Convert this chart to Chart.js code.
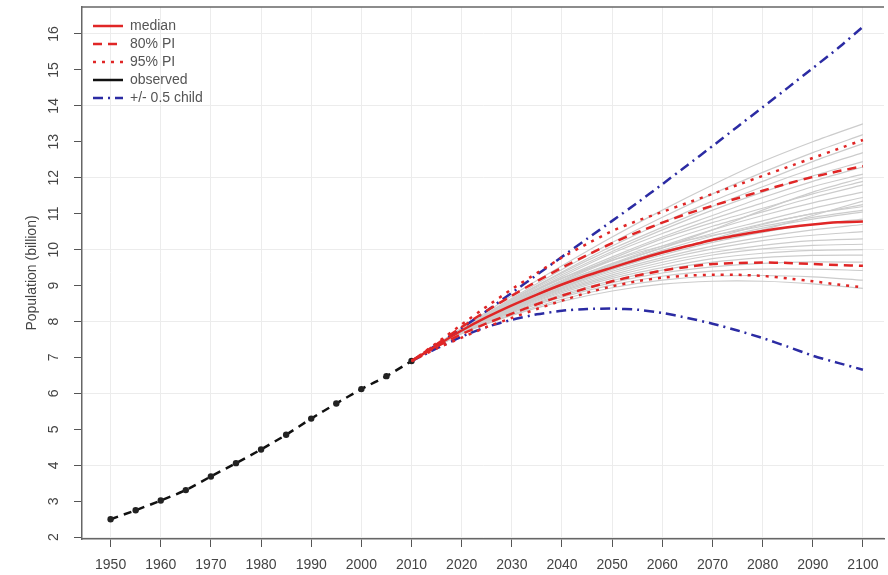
<!DOCTYPE html>
<html>
<head>
<meta charset="utf-8">
<script src="https://cdn.jsdelivr.net/npm/chart.js@4.4.1/dist/chart.umd.min.js"></script>
<style>
  html, body { margin: 0; padding: 0; background: #fff; overflow: hidden; }
</style>
</head>
<body>
<canvas id="chart" width="888" height="575"></canvas>
<script>
// observed world population, every 5 years
const obsYears = [1950, 1955, 1960, 1965, 1970, 1975, 1980, 1985, 1990, 1995, 2000, 2005, 2010];
const observed = [2.5, 2.75, 3.02, 3.31, 3.69, 4.06, 4.44, 4.85, 5.3, 5.72, 6.12, 6.48, 6.9];

// projections
const projYears = [2010, 2015, 2020, 2025, 2030, 2035, 2040, 2045, 2050, 2055, 2060, 2065, 2070, 2075, 2080, 2085, 2090, 2095, 2100];
const median    = [6.9, 7.33, 7.75, 8.12, 8.45, 8.75, 9.03, 9.28, 9.5, 9.72, 9.92, 10.1, 10.27, 10.4, 10.52, 10.62, 10.7, 10.76, 10.78];
const pi80Upper = [6.9, 7.37, 7.85, 8.3, 8.72, 9.12, 9.5, 9.85, 10.18, 10.48, 10.75, 11.0, 11.22, 11.43, 11.64, 11.84, 12.02, 12.18, 12.32];
const pi80Lower = [6.9, 7.3, 7.65, 7.95, 8.22, 8.48, 8.72, 8.93, 9.12, 9.28, 9.42, 9.52, 9.6, 9.63, 9.64, 9.63, 9.6, 9.57, 9.55];
const pi95Upper = [6.9, 7.4, 7.92, 8.42, 8.9, 9.35, 9.78, 10.16, 10.52, 10.8, 11.05, 11.3, 11.55, 11.8, 12.05, 12.3, 12.55, 12.8, 13.05];
const pi95Lower = [6.9, 7.25, 7.55, 7.85, 8.1, 8.35, 8.58, 8.8, 8.98, 9.12, 9.22, 9.28, 9.3, 9.3, 9.27, 9.2, 9.12, 9.03, 8.95];
const childUpper = [6.9, 7.35, 7.82, 8.3, 8.8, 9.3, 9.8, 10.3, 10.8, 11.3, 11.82, 12.35, 12.88, 13.42, 13.96, 14.5, 15.05, 15.6, 16.2];
const childLower = [6.9, 7.25, 7.58, 7.85, 8.05, 8.2, 8.3, 8.35, 8.36, 8.33, 8.24, 8.1, 7.94, 7.75, 7.54, 7.3, 7.05, 6.85, 6.66];

// sample trajectories, every 10 years
const trajYears = [2010, 2020, 2030, 2040, 2050, 2060, 2070, 2080, 2090, 2100];
const trajectories = [
  [6.9, 7.82, 8.72, 9.55, 10.35, 11.1, 11.8, 12.45, 13.0, 13.5],
  [6.9, 7.8, 8.65, 9.45, 10.2, 10.9, 11.55, 12.15, 12.7, 13.2],
  [6.9, 7.8, 8.62, 9.38, 10.1, 10.75, 11.35, 11.9, 12.45, 12.95],
  [6.9, 7.79, 8.6, 9.35, 10.02, 10.62, 11.2, 11.75, 12.25, 12.7],
  [6.9, 7.78, 8.58, 9.3, 9.95, 10.55, 11.1, 11.6, 12.05, 12.45],
  [6.9, 7.77, 8.55, 9.25, 9.9, 10.45, 10.95, 11.45, 11.9, 12.3],
  [6.9, 7.77, 8.52, 9.2, 9.8, 10.35, 10.85, 11.3, 11.75, 12.1],
  [6.9, 7.76, 8.5, 9.15, 9.75, 10.3, 10.75, 11.15, 11.55, 11.9],
  [6.9, 7.76, 8.48, 9.12, 9.7, 10.2, 10.65, 11.05, 11.45, 11.8],
  [6.9, 7.75, 8.46, 9.08, 9.62, 10.1, 10.55, 10.95, 11.3, 11.6],
  [6.9, 7.75, 8.45, 9.05, 9.58, 10.05, 10.45, 10.8, 11.15, 11.45],
  [6.9, 7.74, 8.43, 9.02, 9.52, 9.98, 10.38, 10.72, 11.0, 11.25],
  [6.9, 7.74, 8.42, 9.0, 9.5, 9.92, 10.28, 10.6, 10.85, 11.05],
  [6.9, 7.73, 8.4, 8.96, 9.45, 9.85, 10.2, 10.48, 10.7, 10.85],
  [6.9, 7.73, 8.38, 8.93, 9.4, 9.78, 10.1, 10.35, 10.55, 10.7],
  [6.9, 7.72, 8.36, 8.9, 9.35, 9.72, 10.02, 10.25, 10.4, 10.5],
  [6.9, 7.72, 8.35, 8.87, 9.3, 9.65, 9.92, 10.12, 10.25, 10.3],
  [6.9, 7.71, 8.33, 8.84, 9.25, 9.58, 9.85, 10.02, 10.12, 10.15],
  [6.9, 7.71, 8.31, 8.8, 9.2, 9.5, 9.75, 9.9, 9.98, 10.0],
  [6.9, 7.7, 8.29, 8.76, 9.14, 9.43, 9.65, 9.78, 9.84, 9.85],
  [6.9, 7.69, 8.27, 8.72, 9.08, 9.35, 9.52, 9.62, 9.66, 9.65],
  [6.9, 7.68, 8.24, 8.68, 9.02, 9.26, 9.4, 9.46, 9.46, 9.42],
  [6.9, 7.67, 8.2, 8.62, 8.94, 9.15, 9.26, 9.28, 9.24, 9.15],
  [6.9, 7.66, 8.17, 8.56, 8.85, 9.04, 9.12, 9.12, 9.05, 8.92],
  [6.9, 7.76, 8.5, 9.1, 9.6, 10.05, 10.55, 11.1, 11.6, 12.0],
  [6.9, 7.74, 8.44, 9.05, 9.55, 9.95, 10.25, 10.55, 10.95, 11.35],
  [6.9, 7.78, 8.55, 9.2, 9.7, 10.1, 10.4, 10.65, 10.9, 11.1],
  [6.9, 7.72, 8.38, 8.95, 9.45, 9.9, 10.3, 10.7, 11.0, 11.2]
];

const xTicks = [1950, 1960, 1970, 1980, 1990, 2000, 2010, 2020, 2030, 2040, 2050, 2060, 2070, 2080, 2090, 2100];
const yTicks = [2, 3, 4, 5, 6, 7, 8, 9, 10, 11, 12, 13, 14, 15, 16];

const FONT = 'Liberation Sans, Arial, sans-serif';
const RED = '#e02626';
const BLUE = '#2b2ba3';

const pts = (xs, ys) => xs.map((x, i) => ({ x: x, y: ys[i] }));

function line(label, xs, ys, color, dash, order) {
  return {
    label: label,
    data: pts(xs, ys),
    borderColor: color,
    backgroundColor: color,
    borderWidth: 2.5,
    borderDash: dash,
    pointRadius: 0,
    tension: 0.2,
    fill: false,
    order: order
  };
}

const datasets = [
  line('median', projYears, median, RED, [], 1),
  line('80% PI', projYears, pi80Upper, RED, [9, 6], 2),
  line('', projYears, pi80Lower, RED, [9, 6], 2),
  line('95% PI', projYears, pi95Upper, RED, [3, 6], 3),
  line('', projYears, pi95Lower, RED, [3, 6], 3),
  Object.assign(line('observed', obsYears, observed, '#111', [8, 6], 4), {
    pointRadius: 3.2, pointBackgroundColor: '#222', pointBorderWidth: 0
  }),
  line('+/- 0.5 child', projYears, childUpper, BLUE, [10, 5, 2, 5], 5),
  line('', projYears, childLower, BLUE, [10, 5, 2, 5], 5)
];

trajectories.forEach(t => {
  datasets.push({
    label: '',
    data: pts(trajYears, t),
    borderColor: '#cccccc',
    borderWidth: 1.2,
    pointRadius: 0,
    tension: 0.3,
    fill: false,
    order: 10
  });
});

// top edge of the plot box
const frameTop = {
  id: 'frameTop',
  afterDraw(chart) {
    const { ctx, chartArea } = chart;
    ctx.save();
    ctx.strokeStyle = '#666';
    ctx.lineWidth = 1.5;
    ctx.beginPath();
    ctx.moveTo(chartArea.left, chartArea.top);
    ctx.lineTo(chartArea.right, chartArea.top);
    ctx.stroke();
    ctx.restore();
  }
};

// nudge the in-plot legend to where the reference has it
const legendNudge = {
  id: 'legendNudge',
  afterLayout(chart) {
    const l = chart.legend;
    l.left += 7; l.right += 7;
    l.top += 15; l.bottom += 15;
  }
};

new Chart(document.getElementById('chart'), {
  type: 'line',
  data: { datasets: datasets },
  plugins: [frameTop, legendNudge],
  options: {
    responsive: false,
    animation: false,
    layout: { padding: { top: 7, left: 0, right: 0, bottom: 0 } },
    plugins: {
      tooltip: { enabled: false },
      legend: {
        position: 'chartArea',
        align: 'start',
        labels: {
          usePointStyle: true,
          pointStyle: 'line',
          pointStyleWidth: 30,
          padding: 4,
          color: '#555',
          font: { family: FONT, size: 14 },
          generateLabels: chart => Chart.defaults.plugins.legend.labels.generateLabels(chart)
            .filter(item => item.text !== '')
            .map(item => {
              const ds = chart.data.datasets[item.datasetIndex];
              item.strokeStyle = ds.borderColor;
              item.lineWidth = 2.5;
              item.lineDash = item.text === 'observed' ? [] : ds.borderDash;
              return item;
            })
        }
      }
    },
    scales: {
      x: {
        type: 'linear',
        min: 1944.3,
        max: 2104.2,
        afterBuildTicks: s => { s.ticks = xTicks.map(v => ({ value: v })); },
        afterFit: s => { s.height = 36; s.paddingLeft = 0; s.paddingRight = 0; },
        grid: { color: '#ececec', tickColor: '#555', tickLength: 8 },
        border: { color: '#666', width: 1.5 },
        ticks: {
          color: '#444',
          font: { family: FONT, size: 14 },
          padding: 10,
          maxRotation: 0,
          minRotation: 0,
          callback: v => String(v)
        }
      },
      y: {
        type: 'linear',
        min: 1.95,
        max: 16.75,
        afterBuildTicks: s => { s.ticks = yTicks.map(v => ({ value: v })); },
        afterFit: s => { s.width = 82; s.paddingTop = 0; s.paddingBottom = 0; },
        grid: {
          color: c => (c.tick && c.tick.value % 2 === 0) ? '#ececec' : 'rgba(0,0,0,0)',
          tickColor: '#555',
          tickLength: 8
        },
        border: { color: '#666', width: 1.5 },
        ticks: {
          color: '#444',
          font: { family: FONT, size: 14 },
          padding: 12,
          minRotation: 90,
          maxRotation: 90,
          crossAlign: 'center',
          callback: v => String(v)
        },
        title: {
          display: true,
          text: 'Population (billion)',
          color: '#444',
          font: { family: FONT, size: 14 },
          padding: { top: 24, bottom: 0 }
        }
      }
    }
  }
});
</script>
</body>
</html>
